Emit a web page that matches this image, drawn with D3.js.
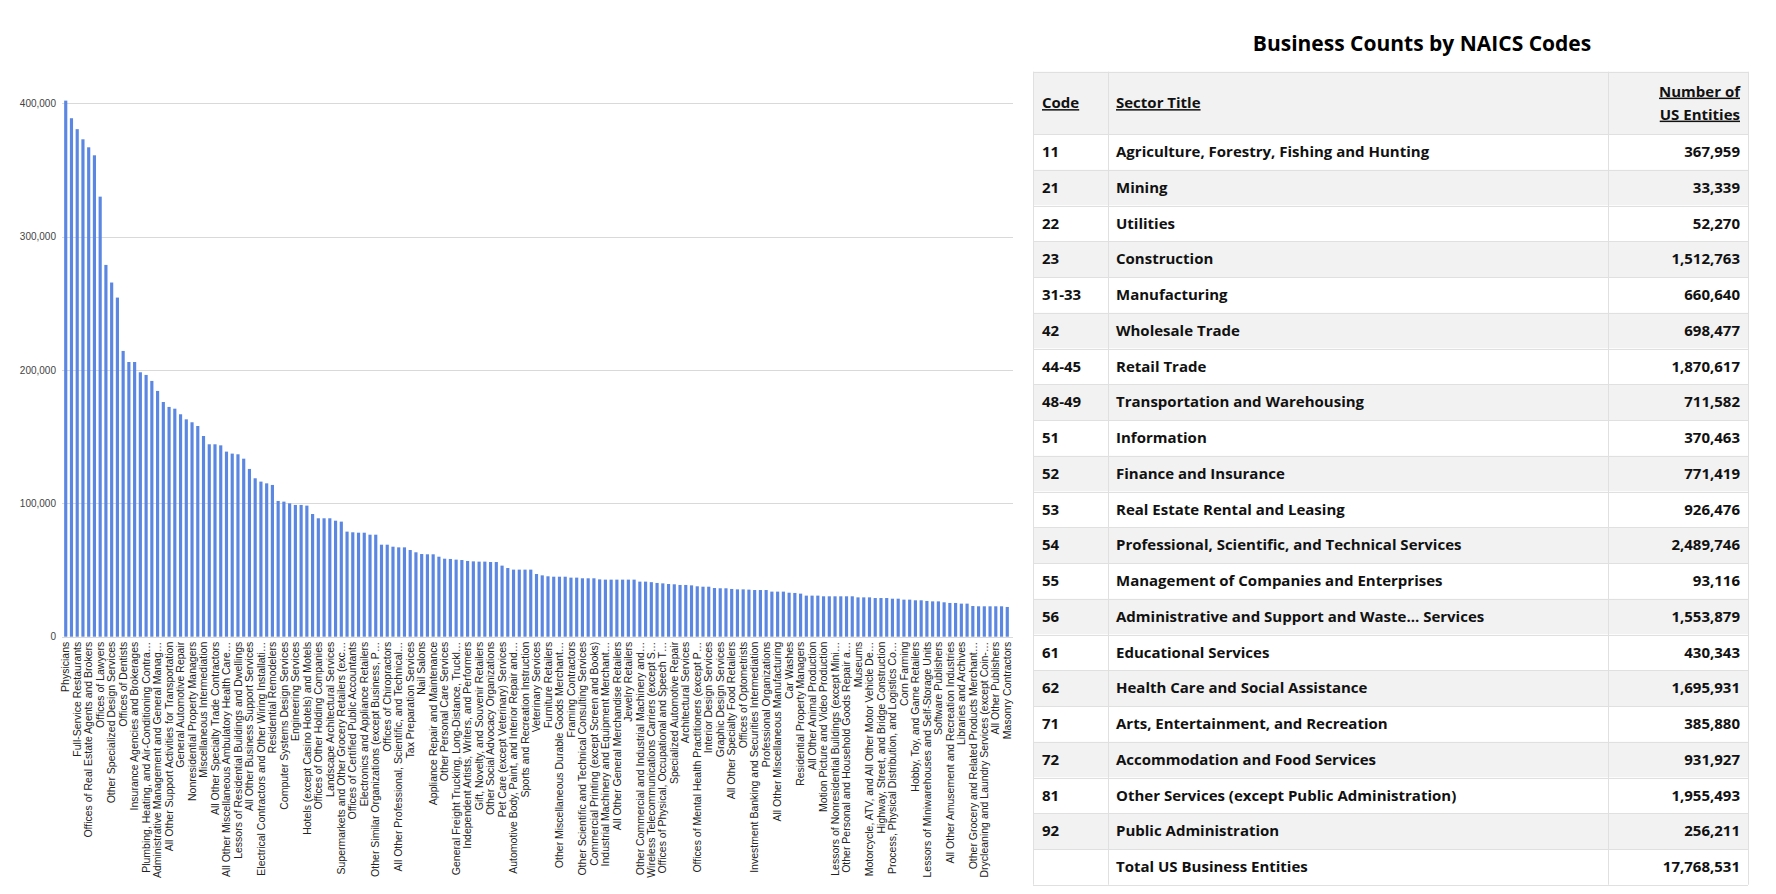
<!DOCTYPE html>
<html>
<head>
<meta charset="utf-8">
<script src="https://cdn.jsdelivr.net/npm/d3@7"></script>
<style>
  body { margin: 0; background: #fff; }
  svg { display: block; }
</style>
</head>
<body>
<div id="chart"></div>
<script>
// bar counts, sorted descending
const counts = [
  402000, 388800, 380600, 373000, 367000, 361000, 330000, 278800, 265600, 254300,
  214300, 206000, 206000, 198300, 196300, 191800, 184300, 176000, 172300, 171000,
  166800, 163000, 160800, 158000, 150500, 144300, 144300, 143500, 138800, 137300,
  136800, 133500, 125800, 118800, 116300, 115000, 113800, 101800, 101300, 100000,
  98800, 98800, 98300, 92000, 88800, 88800, 88800, 87000, 86300, 78800,
  78300, 78000, 78000, 76500, 76500, 69000, 69000, 67500, 67000, 67000,
  65000, 63300, 62000, 61800, 61800, 60000, 58500, 58300, 57800, 57500,
  56800, 56500, 56300, 56300, 56000, 56000, 53300, 51500, 50300, 50300,
  50300, 50300, 47000, 46000, 45300, 45000, 45000, 45000, 44300, 44300,
  43800, 43800, 43800, 43000, 42800, 42800, 42800, 42800, 42800, 42800,
  41300, 41300, 40900, 40300, 40000, 39500, 39300, 38800, 38800, 38500,
  37800, 37500, 37500, 36500, 36300, 36300, 35800, 35500, 35500, 35300,
  35000, 35000, 35000, 33800, 33800, 33800, 33000, 32800, 32300, 30800,
  30800, 30800, 30300, 30300, 30300, 30300, 30300, 30300, 29500, 29500,
  29500, 29000, 29000, 29000, 28500, 28500, 27800, 27800, 27300, 27300,
  26800, 26500, 26500, 25800, 25300, 25300, 24800, 24800, 23000, 22800,
  22800, 22800, 22800, 22800, 22300
];

// only every other bar carries a visible label
const shownLabels = [
  "Physicians",
  "Full-Service Restaurants",
  "Offices of Real Estate Agents and Brokers",
  "Offices of Lawyers",
  "Other Specialized Design Services",
  "Offices of Dentists",
  "Insurance Agencies and Brokerages",
  "Plumbing, Heating, and Air-Conditioning Contra…",
  "Administrative Management and General Manag…",
  "All Other Support Activities for Transportation",
  "General Automotive Repair",
  "Nonresidential Property Managers",
  "Miscellaneous Intermediation",
  "All Other Specialty Trade Contractors",
  "All Other Miscellaneous Ambulatory Health Care…",
  "Lessors of Residential Buildings and Dwellings",
  "All Other Business Support Services",
  "Electrical Contractors and Other Wiring Installati…",
  "Residential Remodelers",
  "Computer Systems Design Services",
  "Engineering Services",
  "Hotels (except Casino Hotels) and Motels",
  "Offices of Other Holding Companies",
  "Landscape Architectural Services",
  "Supermarkets and Other Grocery Retailers (exc…",
  "Offices of Certified Public Accountants",
  "Electronics and Appliance Retailers",
  "Other Similar Organizations (except Business, P…",
  "Offices of Chiropractors",
  "All Other Professional, Scientific, and Technical…",
  "Tax Preparation Services",
  "Nail Salons",
  "Appliance Repair and Maintenance",
  "Other Personal Care Services",
  "General Freight Trucking, Long-Distance, Truckl…",
  "Independent Artists, Writers, and Performers",
  "Gift, Novelty, and Souvenir Retailers",
  "Other Social Advocacy Organizations",
  "Pet Care (except Veterinary) Services",
  "Automotive Body, Paint, and Interior Repair and…",
  "Sports and Recreation Instruction",
  "Veterinary Services",
  "Furniture Retailers",
  "Other Miscellaneous Durable Goods Merchant…",
  "Framing Contractors",
  "Other Scientific and Technical Consulting Services",
  "Commercial Printing (except Screen and Books)",
  "Industrial Machinery and Equipment Merchant…",
  "All Other General Merchandise Retailers",
  "Jewelry Retailers",
  "Other Commercial and Industrial Machinery and…",
  "Wireless Telecommunications Carriers (except S…",
  "Offices of Physical, Occupational and Speech T…",
  "Specialized Automotive Repair",
  "Architectural Services",
  "Offices of Mental Health Practitioners (except P…",
  "Interior Design Services",
  "Graphic Design Services",
  "All Other Specialty Food Retailers",
  "Offices of Optometrists",
  "Investment Banking and Securities Intermediation",
  "Professional Organizations",
  "All Other Miscellaneous Manufacturing",
  "Car Washes",
  "Residential Property Managers",
  "All Other Animal Production",
  "Motion Picture and Video Production",
  "Lessors of Nonresidential Buildings (except Mini…",
  "Other Personal and Household Goods Repair a…",
  "Museums",
  "Motorcycle, ATV, and All Other Motor Vehicle De…",
  "Highway, Street, and Bridge Construction",
  "Process, Physical Distribution, and Logistics Co…",
  "Corn Farming",
  "Hobby, Toy, and Game Retailers",
  "Lessors of Miniwarehouses and Self-Storage Units",
  "Software Publishers",
  "All Other Amusement and Recreation Industries",
  "Libraries and Archives",
  "Other Grocery and Related Products Merchant…",
  "Drycleaning and Laundry Services (except Coin-…",
  "All Other Publishers",
  "Masonry Contractors"
];

const yTicks = [0, 100000, 200000, 300000, 400000];

// table data
const codes = ["11", "21", "22", "23", "31-33", "42", "44-45", "48-49", "51", "52",
  "53", "54", "55", "56", "61", "62", "71", "72", "81", "92", ""];
const sectors = [
  "Agriculture, Forestry, Fishing and Hunting",
  "Mining",
  "Utilities",
  "Construction",
  "Manufacturing",
  "Wholesale Trade",
  "Retail Trade",
  "Transportation and Warehousing",
  "Information",
  "Finance and Insurance",
  "Real Estate Rental and Leasing",
  "Professional, Scientific, and Technical Services",
  "Management of Companies and Enterprises",
  "Administrative and Support and Waste... Services",
  "Educational Services",
  "Health Care and Social Assistance",
  "Arts, Entertainment, and Recreation",
  "Accommodation and Food Services",
  "Other Services (except Public Administration)",
  "Public Administration",
  "Total US Business Entities"
];
const entities = [367959, 33339, 52270, 1512763, 660640, 698477, 1870617, 711582, 370463,
  771419, 926476, 2489746, 93116, 1553879, 430343, 1695931, 385880, 931927, 1955493,
  256211, 17768531];

const width = 1776, height = 894;

const svg = d3.select("#chart")
  .append("svg")
  .attr("width", width)
  .attr("height", height);

// ---------- bar chart ----------
const x = d3.scaleBand()
  .domain(d3.range(counts.length))
  .range([63, 1010])
  .paddingInner(0.45)
  .paddingOuter(0.2);

const y = d3.scaleLinear()
  .domain([0, 400000])
  .range([636.7, 103.3]);

// gridlines
svg.append("g")
  .selectAll("line")
  .data(yTicks)
  .enter()
  .append("line")
  .attr("x1", 62)
  .attr("x2", 1013)
  .attr("y1", d => Math.round(y(d)) + 0.5)
  .attr("y2", d => Math.round(y(d)) + 0.5)
  .attr("stroke", "#d9d9d9")
  .attr("stroke-width", 1);

// y tick labels
svg.append("g")
  .selectAll("text")
  .data(yTicks)
  .enter()
  .append("text")
  .attr("x", 56)
  .attr("y", d => y(d))
  .attr("dy", "0.35em")
  .attr("text-anchor", "end")
  .attr("font-family", "'Liberation Sans', Arial, sans-serif")
  .attr("font-size", "10px")
  .attr("fill", "#444")
  .text(d3.format(","));

// bars
svg.append("g")
  .selectAll("rect")
  .data(counts)
  .enter()
  .append("rect")
  .attr("x", (d, i) => x(i))
  .attr("y", d => y(d))
  .attr("width", x.bandwidth())
  .attr("height", d => y(0) - y(d))
  .attr("fill", "#5b87e2");

// x axis labels, every other bar
const xAxis = d3.axisBottom(x)
  .tickValues(d3.range(0, counts.length, 2))
  .tickSize(0)
  .tickFormat(i => shownLabels[i / 2]);

const gx = svg.append("g")
  .attr("transform", "translate(0," + y(0) + ")")
  .call(xAxis);

gx.select(".domain").remove();
gx.selectAll("text")
  .attr("transform", "rotate(-90)")
  .attr("x", -5)
  .attr("y", 0)
  .attr("dy", "0.35em")
  .attr("text-anchor", "end")
  .attr("font-family", "'Liberation Sans', Arial, sans-serif")
  .attr("font-size", "10.5px")
  .attr("fill", "#222");

// ---------- table ----------
const colX = [1033, 1108, 1608, 1748];
const headTop = 71.7, headBottom = 134, rowH = 35.75;
const tFont = "'Open Sans', 'Noto Sans', sans-serif";

svg.append("text")
  .attr("x", 1422)
  .attr("y", 44)
  .attr("dy", "0.35em")
  .attr("text-anchor", "middle")
  .attr("font-family", tFont)
  .attr("font-weight", 700)
  .attr("font-size", "21px")
  .attr("fill", "#000")
  .text("Business Counts by NAICS Codes");

const table = svg.append("g");

// header background
table.append("rect")
  .attr("x", colX[0])
  .attr("y", headTop)
  .attr("width", colX[3] - colX[0])
  .attr("height", headBottom - headTop)
  .attr("fill", "#f2f2f2");

// row backgrounds
table.selectAll("rect.row")
  .data(codes)
  .enter()
  .append("rect")
  .attr("class", "row")
  .attr("x", colX[0])
  .attr("y", (d, i) => headBottom + i * rowH)
  .attr("width", colX[3] - colX[0])
  .attr("height", rowH)
  .attr("fill", (d, i) => i % 2 === 1 ? "#f2f2f2" : "#fff");

// horizontal borders
const hLines = [headTop, headBottom].concat(codes.map((d, i) => headBottom + (i + 1) * rowH));
table.selectAll("line.h")
  .data(hLines)
  .enter()
  .append("line")
  .attr("x1", colX[0])
  .attr("x2", colX[3])
  .attr("y1", d => Math.round(d) + 0.5)
  .attr("y2", d => Math.round(d) + 0.5)
  .attr("stroke", "#e0e0e0");

// vertical borders
table.selectAll("line.v")
  .data(colX)
  .enter()
  .append("line")
  .attr("x1", d => d + 0.5)
  .attr("x2", d => d + 0.5)
  .attr("y1", headTop)
  .attr("y2", headBottom + codes.length * rowH)
  .attr("stroke", "#e0e0e0");

// header text
const headStyle = sel => sel
  .attr("font-family", tFont)
  .attr("font-weight", 700)
  .attr("font-size", "15px")
  .attr("fill", "#111")
  .style("text-decoration", "underline");

const headMid = (headTop + headBottom) / 2;
table.append("text").call(headStyle)
  .attr("x", colX[0] + 9).attr("y", headMid).attr("dy", "0.35em")
  .text("Code");
table.append("text").call(headStyle)
  .attr("x", colX[1] + 8).attr("y", headMid).attr("dy", "0.35em")
  .text("Sector Title");
table.append("text").call(headStyle)
  .attr("x", colX[3] - 8).attr("y", headMid - 11.5).attr("dy", "0.35em")
  .attr("text-anchor", "end")
  .text("Number of");
table.append("text").call(headStyle)
  .attr("x", colX[3] - 8).attr("y", headMid + 11.5).attr("dy", "0.35em")
  .attr("text-anchor", "end")
  .text("US Entities");

// body text
const bodyStyle = sel => sel
  .attr("font-family", tFont)
  .attr("font-weight", 700)
  .attr("font-size", "15px")
  .attr("fill", "#111")
  .attr("dy", "0.35em");

const rowMid = i => headBottom + i * rowH + rowH / 2;

table.selectAll("text.code")
  .data(codes)
  .enter()
  .append("text")
  .attr("class", "code")
  .call(bodyStyle)
  .attr("x", colX[0] + 9)
  .attr("y", (d, i) => rowMid(i))
  .text(d => d);

table.selectAll("text.sector")
  .data(sectors)
  .enter()
  .append("text")
  .attr("class", "sector")
  .call(bodyStyle)
  .attr("x", colX[1] + 8)
  .attr("y", (d, i) => rowMid(i))
  .text(d => d);

table.selectAll("text.num")
  .data(entities)
  .enter()
  .append("text")
  .attr("class", "num")
  .call(bodyStyle)
  .attr("x", colX[3] - 8)
  .attr("y", (d, i) => rowMid(i))
  .attr("text-anchor", "end")
  .text(d3.format(","));
</script>
</body>
</html>
